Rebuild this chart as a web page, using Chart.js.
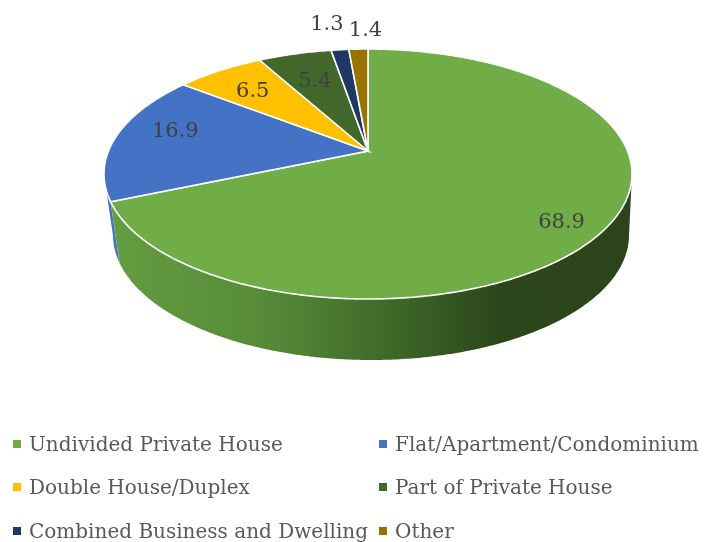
<!DOCTYPE html>
<html>
<head>
<meta charset="utf-8">
<style>
  html, body { margin: 0; padding: 0; background: #fff; }
  #wrap { position: relative; width: 715px; height: 542px; overflow: hidden; }
  #legend span { position: absolute; white-space: nowrap; font: 20px "DejaVu Serif", serif; color: #595959; line-height: 24px; }
  #legend i { position: absolute; width: 8px; height: 8px; }
</style>
</head>
<body>
<div id="wrap">
  <canvas id="chart" width="715" height="542"></canvas>
  <div id="legend"></div>
</div>
<script src="https://cdn.jsdelivr.net/npm/chart.js@4"></script>
<script>
const categories = [
  "Undivided Private House",
  "Flat/Apartment/Condominium",
  "Double House/Duplex",
  "Part of Private House",
  "Combined Business and Dwelling",
  "Other",
];
const shares = [68.9, 16.9, 6.5, 5.4, 1.3, 1.4];
const colors = ["#70AD47", "#4472C4", "#FFC000", "#43682B", "#203864", "#997300"];

// label placement: fraction of the way from apex to rim, then a small nudge
const labelFraction = [0.75, 0.85, 0.85, 0.75, 1.25, 1.2];
const labelNudge = [[13, 16], [21, -7], [11, 9], [2, 3], [-6, 0], [9, 2]];

// legend grid
const legendCols = [13, 379];
const legendRows = [444, 487, 531];

// the pie is a tilted disc seen in perspective
const top3d = { cx: 368, cy: 174, rx: 264, ry: 125 };
const bottom3d = { cx: 371, cy: 235, rx: 258, ry: 125 };
const tilt = -0.184;

function project(angle) {
  const theta = angle + Math.PI / 2;
  const u = Math.sin(theta);
  const v = -Math.cos(theta);
  const d = 1 + tilt * v;
  return { u: (u * Math.sqrt(1 - tilt * tilt)) / d, v: (v + tilt) / d };
}

function onEllipse(e, p) {
  return { x: e.cx + e.rx * p.u, y: e.cy + e.ry * p.v };
}

function wallFill(ctx, index) {
  if (index !== 0) return colors[index];
  const g = ctx.createLinearGradient(110, 0, 630, 0);
  g.addColorStop(0, "#659D41");
  g.addColorStop(0.3, "#568A38");
  g.addColorStop(0.55, "#3D6728");
  g.addColorStop(0.75, "#2C461B");
  g.addColorStop(1, "#2C441B");
  return g;
}

const pie3d = {
  id: "pie3d",
  beforeDatasetDraw(chart) {
    const ctx = chart.ctx;
    const arcs = chart.getDatasetMeta(0).data;
    const step = 0.01;

    // side wall, only the front part of each slice
    ctx.save();
    [...arcs.keys()].reverse().forEach((i) => {
      const front = [];
      for (let a = arcs[i].startAngle; a < arcs[i].endAngle; a += step) {
        const p = project(a);
        if (p.v >= 0) front.push(p);
      }
      if (!front.length) return;
      ctx.beginPath();
      front.forEach((p) => {
        const q = onEllipse(top3d, p);
        ctx.lineTo(q.x, q.y);
      });
      front.reverse().forEach((p) => {
        const q = onEllipse(bottom3d, p);
        ctx.lineTo(q.x, q.y);
      });
      ctx.closePath();
      ctx.fillStyle = wallFill(ctx, i);
      ctx.fill();
    });

    // top face
    const apex = { x: top3d.cx, y: top3d.cy + top3d.ry * tilt };
    arcs.forEach((arc, i) => {
      ctx.beginPath();
      ctx.moveTo(apex.x, apex.y);
      for (let a = arc.startAngle; a < arc.endAngle; a += step) {
        const q = onEllipse(top3d, project(a));
        ctx.lineTo(q.x, q.y);
      }
      const end = onEllipse(top3d, project(arc.endAngle));
      ctx.lineTo(end.x, end.y);
      ctx.closePath();
      ctx.fillStyle = colors[i];
      ctx.fill();
      ctx.strokeStyle = "#ffffff";
      ctx.lineWidth = 1.6;
      ctx.stroke();
    });

    // value labels
    ctx.font = '21px "DejaVu Serif", serif';
    ctx.fillStyle = "#404040";
    ctx.textAlign = "center";
    ctx.textBaseline = "middle";
    arcs.forEach((arc, i) => {
      const rim = onEllipse(top3d, project((arc.startAngle + arc.endAngle) / 2));
      const x = apex.x + (rim.x - apex.x) * labelFraction[i] + labelNudge[i][0];
      const y = apex.y + (rim.y - apex.y) * labelFraction[i] + labelNudge[i][1];
      ctx.fillText(shares[i].toFixed(1), x, y);
    });
    ctx.restore();
    return false;
  },
};

new Chart(document.getElementById("chart"), {
  type: "pie",
  data: {
    labels: categories,
    datasets: [{ data: shares, backgroundColor: colors }],
  },
  options: {
    responsive: false,
    animation: false,
    plugins: { legend: { display: false }, tooltip: { enabled: false } },
  },
  plugins: [pie3d],
});

const legend = document.getElementById("legend");
categories.forEach((name, i) => {
  const col = legendCols[i % 2];
  const row = legendRows[Math.floor(i / 2)];
  const mark = document.createElement("i");
  mark.style.cssText = `left:${col}px;top:${row - 4}px;background:${colors[i]}`;
  const text = document.createElement("span");
  text.textContent = name;
  text.style.cssText = `left:${col + 16}px;top:${row - 12}px`;
  legend.append(mark, text);
});
</script>
</body>
</html>
